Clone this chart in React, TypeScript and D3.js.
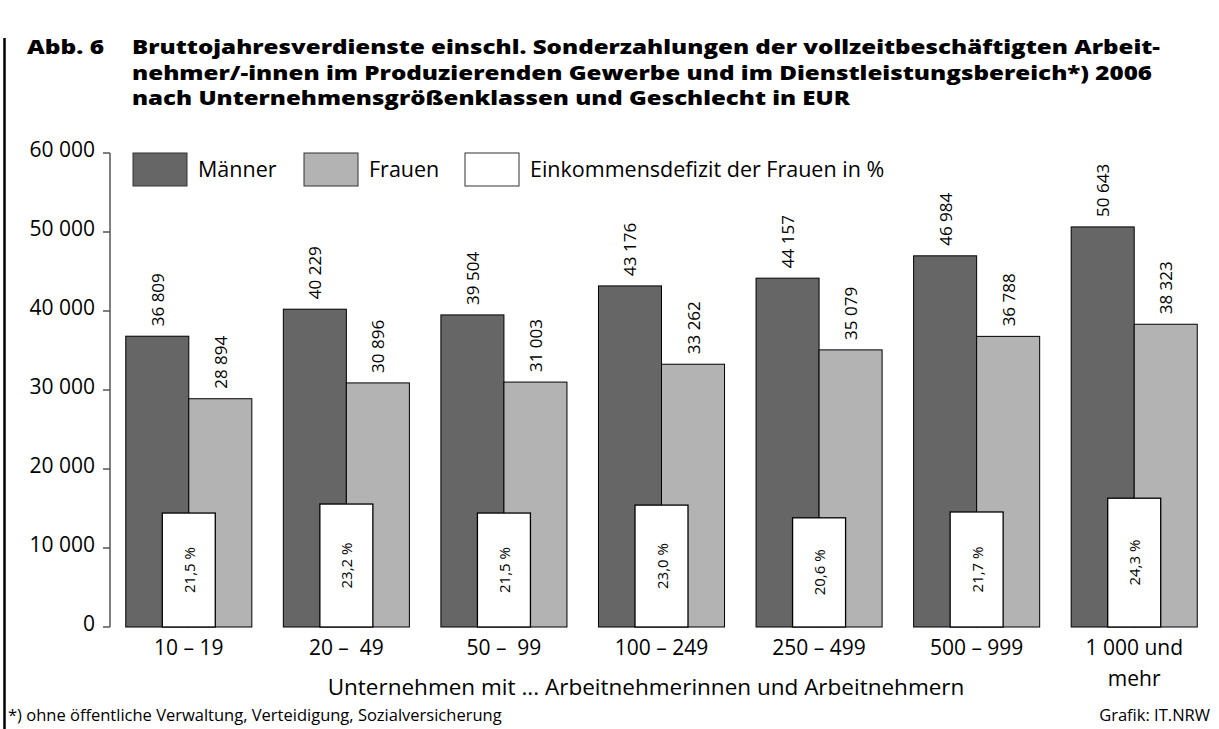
import React from "react";
import * as d3 from "d3";

const categories = ["10 – 19", "20 –  49", "50 –  99", "100 – 249", "250 – 499", "500 – 999", "1 000 und|mehr"];
const maenner = [36809, 40229, 39504, 43176, 44157, 46984, 50643];
const frauen = [28894, 30896, 31003, 33262, 35079, 36788, 38323];
const defizit = [21.5, 23.2, 21.5, 23.0, 20.6, 21.7, 24.3];
const yTicks = [0, 10000, 20000, 30000, 40000, 50000, 60000];
const titleLines = [
  "Bruttojahresverdienste einschl. Sonderzahlungen der vollzeitbeschäftigten Arbeit-",
  "nehmer/-innen im Produzierenden Gewerbe und im Dienstleistungsbereich*) 2006",
  "nach Unternehmensgrößenklassen und Geschlecht in EUR",
];
const titleWidths = [1028, 1020, 718];
const legendItems = [
  { label: "Männer", color: "#666666" },
  { label: "Frauen", color: "#b3b3b3" },
  { label: "Einkommensdefizit der Frauen in %", color: "#ffffff" },
];

const W = 1219;
const H = 729;
const FONT = "'Open Sans', 'Noto Sans', sans-serif";

const locale = d3.formatLocale({ decimal: ",", thousands: " ", grouping: [3], currency: ["", " €"] });
const fmtInt = locale.format(",d");
const fmtPct = locale.format(".1f");

export default function App() {
  const x = d3.scaleBand<string>().domain(categories).range([110, 1213]).paddingInner(0.2).paddingOuter(0.1);
  const y = d3.scaleLinear().domain([0, 60000]).range([627, 153]);
  const yPct = d3.scaleLinear().domain([0, 100]).range([627, 97]);
  const bw = x.bandwidth() / 2;
  const boxW = 53;
  const legendX = [133, 304, 465];

  return (
    <svg width={W} height={H} style={{ position: "absolute", left: 0, top: 0, background: "#fff" }} fontFamily={FONT}>
      <rect x={0} y={0} width={W} height={H} fill="#fff" />
      {/* left frame line */}
      <line x1={4.5} x2={4.5} y1={38} y2={H} stroke="#000" strokeWidth={2.5} />
      {/* title */}
      <text x={27} y={54} fontSize={19} fontWeight={800} fill="#000" textLength={77} lengthAdjust="spacingAndGlyphs">Abb. 6</text>
      {titleLines.map((t, i) => (
        <text key={i} x={132} y={54 + i * 25.5} fontSize={19} fontWeight={800} fill="#000" textLength={titleWidths[i]} lengthAdjust="spacingAndGlyphs">{t}</text>
      ))}
      {/* y axis */}
      <line x1={110} x2={110} y1={y(60000)} y2={y(0)} stroke="#555" strokeWidth={1.5} />
      {yTicks.map((t) => (
        <g key={t}>
          <line x1={103} x2={110} y1={y(t)} y2={y(t)} stroke="#555" strokeWidth={1.5} />
          <text x={95} y={y(t) + 4} fontSize={21} textAnchor="end" fill="#000">{fmtInt(t)}</text>
        </g>
      ))}
      {/* legend */}
      {legendItems.map((d, i) => (
        <g key={d.label}>
          <rect x={legendX[i]} y={153} width={54} height={33} fill={d.color} stroke="#333" strokeWidth={1} />
          <text x={legendX[i] + 65} y={177} fontSize={21.5} fill="#000">{d.label}</text>
        </g>
      ))}
      {/* bars */}
      {categories.map((c, i) => {
        const x0 = x(c)!;
        const cx = x0 + x.bandwidth() / 2;
        const mx = x0 + bw / 2;
        const fx = x0 + bw * 1.5;
        const pTop = yPct(defizit[i]);
        return (
          <g key={c}>
            <rect x={x0} y={y(maenner[i])} width={bw} height={y(0) - y(maenner[i])} fill="#666666" stroke="#000" strokeWidth={1} />
            <rect x={x0 + bw} y={y(frauen[i])} width={bw} height={y(0) - y(frauen[i])} fill="#b3b3b3" stroke="#000" strokeWidth={1} />
            <rect x={cx - boxW / 2} y={pTop} width={boxW} height={y(0) - pTop} fill="#fff" stroke="#000" strokeWidth={1.3} />
            <text transform={`translate(${mx},${y(maenner[i]) - 10}) rotate(-90)`} fontSize={17} dominantBaseline="central" fill="#000">{fmtInt(maenner[i])}</text>
            <text transform={`translate(${fx},${y(frauen[i]) - 10}) rotate(-90)`} fontSize={17} dominantBaseline="central" fill="#000">{fmtInt(frauen[i])}</text>
            <text transform={`translate(${cx},${(pTop + y(0)) / 2}) rotate(-90)`} fontSize={15} textAnchor="middle" dominantBaseline="central" fill="#000">{fmtPct(defizit[i]) + " %"}</text>
            {c.split("|").map((line, j) => (
              <text key={j} x={cx} y={655 + j * 31} fontSize={21} textAnchor="middle" fill="#000" xmlSpace="preserve" style={{ whiteSpace: "pre" }}>{line}</text>
            ))}
          </g>
        );
      })}
      {/* x axis title */}
      <text x={646} y={695} fontSize={22.5} textAnchor="middle" fill="#000">Unternehmen mit ... Arbeitnehmerinnen und Arbeitnehmern</text>
      {/* footer */}
      <text x={8} y={721} fontSize={16.5} fill="#000">*) ohne öffentliche Verwaltung, Verteidigung, Sozialversicherung</text>
      <text x={1210} y={721} fontSize={16.5} textAnchor="end" fill="#000">Grafik: IT.NRW</text>
    </svg>
  );
}
